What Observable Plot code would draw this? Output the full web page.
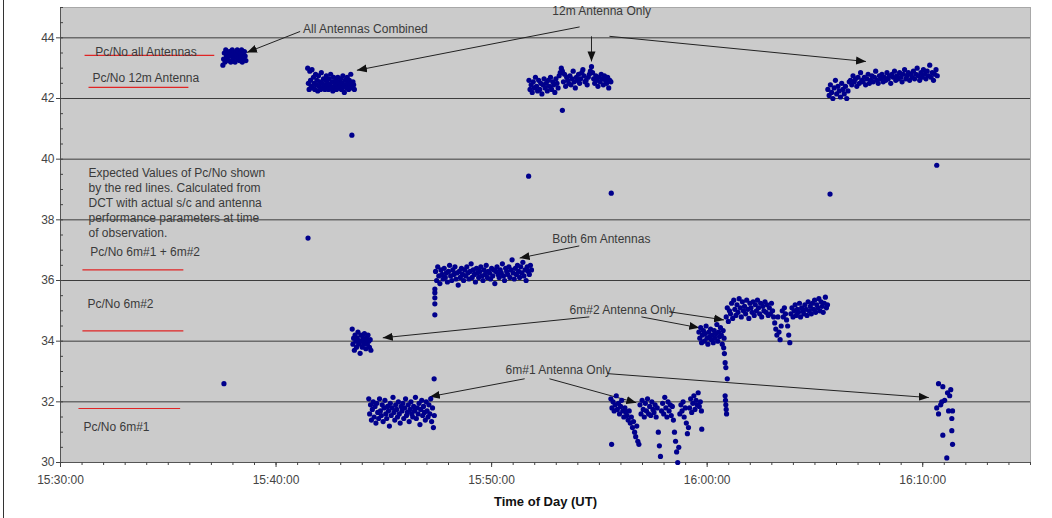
<!DOCTYPE html>
<html><head><meta charset="utf-8">
<script src="https://cdn.jsdelivr.net/npm/d3@7"></script>
<script src="https://cdn.jsdelivr.net/npm/@observablehq/plot@0.6"></script>
<style>
body{margin:0;background:#fff;}
#wrap{position:relative;width:1052px;height:518px;}
#edge{position:absolute;left:3px;top:0;width:1px;height:518px;background:#333;}
</style></head><body><div id="wrap"><div id="edge"></div></div>
<script>
// Time axis origin is 15:30:00 UT; all times below are seconds after it.
const axisStart = 0, axisEnd = 2700;

// Measured Pc/No (dB-Hz) – regularly sampled runs: start (s), sample step (s), values
const combinedStart = 452, combinedStep = 2;
const combinedValues = [43.1,43.3,43.5,43.2,43.6,43.4,43.3,43.5,43.25,43.55,43.4,43.2,43.45,43.6,43.3,43.5,43.35,43.2,43.55,43.4,43.6,43.3,43.45,43.25,43.5,43.35,43.6,43.2,43.45,43.3,43.55,43.4,43.25];

const twelveAStart = 688, twelveAStep = 2;
const twelveAValues = [43.0,42.5,42.3,42.9,42.6,42.4,42.95,42.35,42.7,42.5,42.3,42.8,42.45,42.6,42.25,42.75,42.4,42.55,42.3,42.85,42.5,42.35,42.65,42.45,42.3,42.6,42.75,42.4,42.5,42.3,42.65,42.45,42.8,42.35,42.55,42.25,42.7,42.4,42.5,42.6,42.3,42.45,42.7,42.35,42.55,42.4,42.65,42.3,42.5,42.75,42.4,42.2,42.6,42.45,42.35,42.7,42.5,42.3,42.6,42.4,42.8,42.5,42.35,42.55,42.45,42.3];

const sixTwoAStart = 812, sixTwoAStep = 2;
const sixTwoAValues = [34.4,33.9,34.1,33.7,34.2,34.0,33.8,34.1,34.3,33.9,34.0,33.6,34.2,34.0,33.8,34.1,33.9,34.25,34.0,33.75,34.1,33.9,34.2,34.0,33.8,34.05,33.7];

const sixOneAStart = 858, sixOneAStep = 2.5;
const sixOneAValues = [32.1,31.6,31.9,31.4,31.75,32.0,31.5,31.85,31.3,31.95,31.65,31.45,32.1,31.7,31.55,31.9,31.35,31.8,32.05,31.6,31.45,31.85,31.7,31.2,31.95,31.55,31.8,32.15,31.65,31.4,31.9,31.75,31.5,32.0,31.6,31.3,31.85,31.7,31.95,31.45,31.8,32.1,31.55,31.65,31.9,31.35,31.75,32.0,31.6,31.5,31.85,31.7,32.15,31.45,31.8,31.6,31.95,31.25,31.75,32.05,31.55,31.85,31.65,31.4,32.0,31.7,31.5,31.9,31.6,32.1,31.35,31.8,31.15,31.55];

const bothSixStart = 1044, bothSixStep = 3;
const bothSixValues = [36.3,36.0,36.45,36.15,35.9,36.35,36.2,36.05,36.4,36.1,36.25,35.95,36.3,36.5,36.15,36.0,36.35,36.2,36.45,36.05,36.25,35.85,36.3,36.1,36.4,36.2,36.0,36.35,36.15,36.45,36.25,36.05,36.3,36.55,36.1,36.35,36.2,35.95,36.4,36.25,36.1,36.3,36.45,36.15,36.0,36.35,36.2,36.5,36.1,36.3,36.25,36.05,36.4,36.15,36.35,35.9,36.3,36.45,36.2,36.1,36.35,36.25,36.55,36.15,36.0,36.4,36.3,36.2,36.45,36.1,36.35,36.68,36.25,36.05,36.4,36.2,36.5,36.3,36.1,36.45,36.25,36.6,36.15,36.35,36.0,36.45,36.3,36.2,36.5,36.35];

const twelveBStart = 1304, twelveBStep = 3;
const twelveBValues = [42.6,42.3,42.45,42.2,42.55,42.35,42.7,42.4,42.25,42.6,42.3,42.5,42.15,42.45,42.65,42.35,42.5,42.25,42.6,42.4,42.7,42.3,42.55,42.45,42.2,42.65,42.5,42.35,42.75,42.85,43.0,42.9,42.55,42.8,42.4,42.7,42.6,42.5,42.75,42.45,42.65,42.9,42.55,42.35,42.7,42.6,42.8,42.5,42.65,42.85,42.95,42.75,42.55,42.6,42.45,42.7,42.8,42.9,43.05,42.85,42.65,42.5,42.75,42.6,42.4,42.7,42.55,42.8,42.65,42.45,42.75,42.6,42.5,42.7,42.35,42.6,42.55];

const sixOneBStart = 1532, sixOneBStep = 3;
const sixOneBValues = [32.1,31.8,32.0,31.7,31.9,32.2,31.75,31.95,31.6,31.85,32.05,31.7,31.5,31.8,31.65,
  31.55,31.4,31.7,31.3,31.5,31.15,31.35,31.0,30.85,31.2,30.7,30.6,
  31.9,31.6,32.05,31.75,31.5,31.95,31.7,32.1,31.6,31.85,31.55,32.0,31.75,31.65,31.9,31.5,31.8,
  31.0,30.55,30.2,
  31.7,31.95,31.6,32.15,31.8,31.5,32.0,31.7,31.9,31.55,31.85,31.4,
  31.0,30.7,30.35,30.0,30.5,
  31.6,31.9,31.7,32.0,31.5,31.8,
  31.3,30.95,31.15,
  31.8,32.1,31.65,31.95,32.2,31.75,32.05,31.9,32.3,31.85,32.0,31.7];

const sixTwoBStart = 1777, sixTwoBStep = 2.5;
const sixTwoBValues = [34.3,34.1,34.45,33.95,34.2,34.35,34.0,34.25,34.5,34.1,33.9,34.3,34.15,34.4,34.05,34.2,33.95,34.35,34.1,34.25,34.55,34.0,34.3,34.15,34.45,34.2,33.9,34.35,34.1];

const sixTwoCStart = 1853, sixTwoCStep = 3;
const sixTwoCValues = [34.8,35.1,34.65,35.0,34.9,35.25,34.75,35.35,35.05,34.85,35.2,34.95,35.4,35.1,34.8,35.3,35.0,35.15,34.9,35.35,35.05,34.75,35.25,35.1,34.95,35.3,34.85,35.2,35.0,35.35,35.1,34.9,35.25,34.8,35.15,35.0,35.3,34.95,35.2,34.85,35.1,34.9,35.25,35.0,34.8,
  34.6,34.4,34.2,34.8,34.3,34.05,34.5,
  35.0,34.8,35.1,34.9,34.7,
  34.5,34.2,33.95,
  34.9,35.1,34.8,35.0,35.2,34.85,35.05,34.95,35.25,34.8,35.1,35.0,34.9,35.2,35.05,34.85,35.3,35.0,35.15,34.9,35.25,35.05,35.35,34.95,35.2,35.1,35.4,35.0,35.3,35.15,34.95,35.25,35.45,35.1,35.2];

const twelveCStart = 2136, twelveCStep = 3.5;
const twelveCValues = [42.3,42.1,42.45,42.2,42.0,42.35,42.6,42.15,42.4,42.25,42.05,42.5,42.3,42.15,42.4,42.0,42.25,42.55,
  42.6,42.45,42.75,42.55,42.65,42.4,42.7,42.5,42.85,42.6,42.55,42.7,42.45,42.65,42.8,42.5,42.6,42.75,42.55,42.7,42.9,42.6,42.5,42.75,42.65,42.8,42.55,42.7,42.6,42.85,42.65,42.75,42.5,42.8,42.7,42.9,42.6,42.75,42.65,42.85,42.7,42.55,42.8,42.95,42.65,42.75,42.85,42.6,42.8,42.7,42.9,42.65,42.8,43.0,42.75,42.6,42.85,42.7,42.95,42.8,42.65,42.9,42.75,43.1,42.7,42.85,42.6,42.8,42.95,42.75];

// Irregular samples: times (s) and values
const transitionTimes = [1042,1042,1042,1042,1042, 1846,1848,1850,1852,1856, 1850,1851,1852,1853,1854];
const transitionValues = [34.87,35.23,35.43,35.6,35.72, 33.78,33.59,33.29,33.13,32.76, 32.2,32.05,31.9,31.75,31.6];

const sixOneCTimes = [2444,2456,2478,2475,2439,2453,2461,2472,2483,2481,2481,2483,2456,2467,2444,2469,2450];
const sixOneCValues = [32.6,32.5,32.4,32.2,31.8,32.0,32.05,31.7,31.7,31.45,31.05,30.6,30.9,30.15,31.6,32.3,31.9];

const outlierTimes = [455,689,811,1040,1303,1397,1533,1534,1785,2142,2439];
const outlierValues = [32.6,37.4,40.79,32.76,39.44,41.61,38.88,30.6,31.1,38.85,39.8];

// Expected Pc/No (red lines) and their labels
const expectedNames = ["Pc/No all Antennas","Pc/No 12m Antenna","Pc/No 6m#1 + 6m#2","Pc/No 6m#2","Pc/No 6m#1"];
const expectedValues = [43.42,42.37,36.35,34.34,31.78];
const expectedFrom = [67,78,61,61,50];
const expectedTo = [428,356,342,342,333];
const expectedLabelTime = [97,89,83,75,64];
const expectedLabelValue = [43.52,42.66,36.94,35.23,31.15];

const noteLines = ["Expected Values of Pc/No shown","by the red lines. Calculated from","DCT with actual s/c and antenna","performance parameters at time","of observation."];
const noteTime = 78, noteValue = 39.77;

// Callouts
const calloutText = ["All Antennas Combined","12m Antenna Only","Both 6m Antennas","6m#2 Antenna Only","6m#1 Antenna Only"];
const calloutTime = [675,1369,1369,1417,1239];
const calloutValue = [44.28,44.87,37.37,35.03,33.03];

const arrowFromTime = [667,1445,1478,1528,1444,1472,1617,1694,1292,1361,1522];
const arrowFromValue = [44.21,44.36,44.05,44.05,37.14,34.80,34.80,34.97,32.76,32.76,32.93];
const arrowToTime = [519,825,1478,2242,1278,897,1778,1847,1028,1603,2417];
const arrowToValue = [43.52,42.93,43.22,43.22,36.74,34.11,34.44,34.70,32.17,31.97,32.14];

const yTicks = [30,32,34,36,38,40,42,44];
const gridValues = [32,34,36,38,40,42,44];
const xTickTimes = [0,600,1200,1800,2400];
const xTitle = "Time of Day (UT)";

// ---- build ----
const base = Date.UTC(2004,0,1,15,30,0);
const T = s => new Date(base + s * 1000);
const run = (start, step, values) => values.map((v, i) => ({t: T(start + i * step), v}));
const pairs = (times, values) => values.map((v, i) => ({t: T(times[i]), v}));

const points = [
  ...run(combinedStart, combinedStep, combinedValues),
  ...run(twelveAStart, twelveAStep, twelveAValues),
  ...run(sixTwoAStart, sixTwoAStep, sixTwoAValues),
  ...run(sixOneAStart, sixOneAStep, sixOneAValues),
  ...run(bothSixStart, bothSixStep, bothSixValues),
  ...run(twelveBStart, twelveBStep, twelveBValues),
  ...run(sixOneBStart, sixOneBStep, sixOneBValues),
  ...run(sixTwoBStart, sixTwoBStep, sixTwoBValues),
  ...run(sixTwoCStart, sixTwoCStep, sixTwoCValues),
  ...run(twelveCStart, twelveCStep, twelveCValues),
  ...pairs(transitionTimes, transitionValues),
  ...pairs(sixOneCTimes, sixOneCValues),
  ...pairs(outlierTimes, outlierValues)
];

const expected = expectedNames.map((n, i) => ({
  name: n, v: expectedValues[i], t1: T(expectedFrom[i]), t2: T(expectedTo[i]),
  lt: T(expectedLabelTime[i]), lv: expectedLabelValue[i]
}));
const callouts = calloutText.map((s, i) => ({s, t: T(calloutTime[i]), v: calloutValue[i]}));
const arrows = arrowFromTime.map((_, i) => ({
  t1: T(arrowFromTime[i]), v1: arrowFromValue[i], t2: T(arrowToTime[i]), v2: arrowToValue[i]
}));

function filledArrow(color, context) {
  const doc = (context && context.document) || document;
  const ns = "http://www.w3.org/2000/svg";
  const m = doc.createElementNS(ns, "marker");
  m.setAttribute("viewBox", "-10 -5 10 10");
  m.setAttribute("markerWidth", "10");
  m.setAttribute("markerHeight", "10");
  m.setAttribute("markerUnits", "userSpaceOnUse");
  m.setAttribute("orient", "auto");
  m.setAttribute("refX", "0");
  m.setAttribute("refY", "0");
  const p = doc.createElementNS(ns, "path");
  p.setAttribute("d", "M-10,-4L0,0L-10,4Z");
  p.setAttribute("fill", "#111");
  p.setAttribute("stroke", "none");
  m.appendChild(p);
  return m;
}

const font = "'Liberation Sans', Arial, sans-serif";
const chart = Plot.plot({
  width: 1052, height: 518,
  marginLeft: 60, marginRight: 22, marginTop: 7, marginBottom: 56,
  style: {fontFamily: font, fontSize: "12px", color: "#444", background: "transparent", overflow: "visible"},
  x: {type: "utc", domain: [T(axisStart), T(axisEnd)], label: null},
  y: {domain: [30, 45], label: null},
  marks: [
    Plot.frame({fill: "#cbcbcb", stroke: "#a8a8a8"}),
    Plot.ruleY(gridValues, {stroke: "#3c3c3c", strokeWidth: 1}),
    Plot.ruleY([30], {stroke: "#555"}),
    Plot.ruleX([T(axisStart)], {stroke: "#555"}),
    Plot.axisY({ticks: yTicks, tickSize: 4, tickPadding: 2, label: null, fontSize: 12}),
    Plot.axisY({ticks: d3.range(30, 45.001, 0.5), tickSize: 3, dx: 3, tickFormat: () => "", label: null}),
    Plot.axisX({ticks: xTickTimes.map(T), tickSize: 5, tickPadding: 8, tickFormat: d3.utcFormat("%H:%M:%S"), label: null, fontSize: 12}),
    Plot.axisX({ticks: d3.range(axisStart, axisEnd + 1, 60).map(T), tickSize: 3, tickFormat: () => "", label: null}),
    Plot.link(expected, {x1: "t1", x2: "t2", y1: "v", y2: "v", stroke: "#e02525", strokeWidth: 1.2}),
    Plot.text(expected, {x: "lt", y: "lv", text: "name", textAnchor: "start", fill: "#3a3a3a", fontSize: 12}),
    Plot.text([noteLines.join("\n")], {x: T(noteTime), y: noteValue, text: d => d, textAnchor: "start", lineAnchor: "top", lineHeight: 1.25, fill: "#3a3a3a", fontSize: 12}),
    Plot.text(callouts, {x: "t", y: "v", text: "s", textAnchor: "start", fill: "#3a3a3a", fontSize: 12}),
    Plot.link(arrows, {x1: "t1", y1: "v1", x2: "t2", y2: "v2", stroke: "#222", strokeWidth: 1, markerEnd: filledArrow}),
    Plot.dot(points, {x: "t", y: "v", r: 2.6, fill: "#00008c", stroke: "none"}),
    Plot.text([xTitle], {frameAnchor: "bottom", dy: 43, text: d => d, fontWeight: "bold", fontSize: 13, fill: "#111"})
  ]
});
document.getElementById("wrap").appendChild(chart);
</script>
</body></html>
